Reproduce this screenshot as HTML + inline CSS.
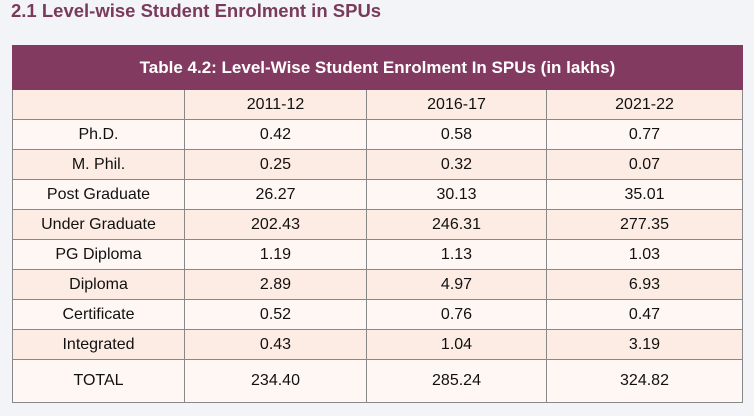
<!DOCTYPE html>
<html><head><style>
body{margin:0;width:754px;height:416px;background:#f3f4f8;font-family:"Liberation Sans",sans-serif;position:relative;overflow:hidden}
h1{position:absolute;left:11px;top:0px;margin:0;font-size:18.5px;font-weight:bold;color:#7a3a5c;white-space:nowrap}
table{position:absolute;left:12px;top:45px;width:731px;border-collapse:collapse;border:1px solid #777}
td{border:1px solid #888;text-align:center;font-size:16px;color:#111;height:29px;padding:0}
.hd td{background:#833a60;color:#fff;font-weight:bold;font-size:17px;height:43px;border-color:#833a60}
tr.a td{background:#fdece4}
tr.b td{background:#fff7f4}
tr.t td{height:42px}
</style></head><body>
<h1>2.1 Level-wise Student Enrolment in SPUs</h1>
<table>
<colgroup><col style="width:172px"><col style="width:182px"><col style="width:180px"><col></colgroup>
<tr class="hd"><td colspan="4">Table 4.2: Level-Wise Student Enrolment In SPUs (in lakhs)</td></tr>
<tr class="a"><td></td><td>2011-12</td><td>2016-17</td><td>2021-22</td></tr>
<tr class="b"><td>Ph.D.</td><td>0.42</td><td>0.58</td><td>0.77</td></tr>
<tr class="a"><td>M. Phil.</td><td>0.25</td><td>0.32</td><td>0.07</td></tr>
<tr class="b"><td>Post Graduate</td><td>26.27</td><td>30.13</td><td>35.01</td></tr>
<tr class="a"><td>Under Graduate</td><td>202.43</td><td>246.31</td><td>277.35</td></tr>
<tr class="b"><td>PG Diploma</td><td>1.19</td><td>1.13</td><td>1.03</td></tr>
<tr class="a"><td>Diploma</td><td>2.89</td><td>4.97</td><td>6.93</td></tr>
<tr class="b"><td>Certificate</td><td>0.52</td><td>0.76</td><td>0.47</td></tr>
<tr class="a"><td>Integrated</td><td>0.43</td><td>1.04</td><td>3.19</td></tr>
<tr class="b t"><td>TOTAL</td><td>234.40</td><td>285.24</td><td>324.82</td></tr>
</table>
</body></html>
